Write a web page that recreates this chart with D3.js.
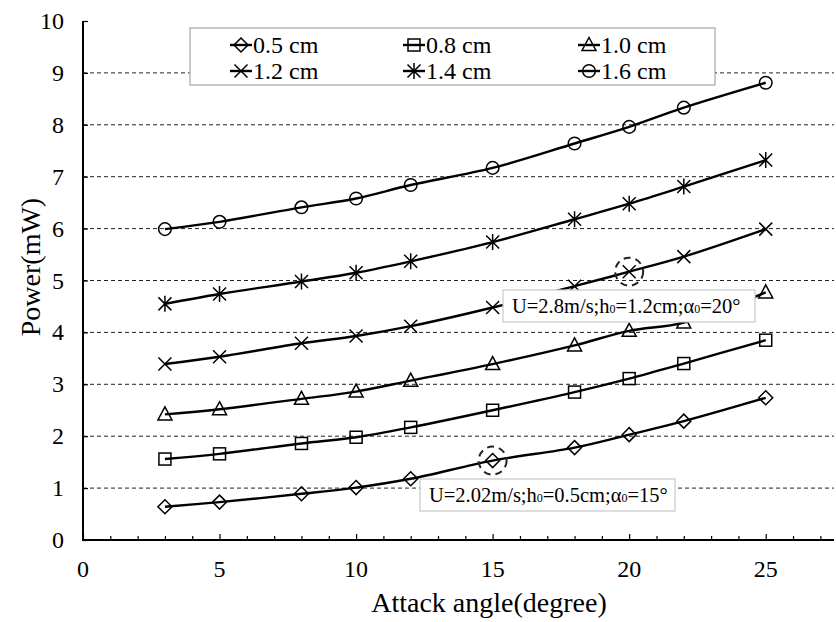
<!DOCTYPE html>
<html>
<head>
<meta charset="utf-8">
<script src="https://cdn.jsdelivr.net/npm/d3@7"></script>
<style>
    body { margin: 0; background: white; }
</style>
</head>
<body>
<script>
// data
const angles = [3, 5, 8, 10, 12, 15, 18, 20, 22, 25];
const seriesNames = ["0.5 cm", "0.8 cm", "1.0 cm", "1.2 cm", "1.4 cm", "1.6 cm"];
const p05 = [0.64, 0.73, 0.89, 1.01, 1.18, 1.53, 1.78, 2.03, 2.29, 2.74];
const p08 = [1.56, 1.66, 1.86, 1.98, 2.17, 2.50, 2.85, 3.11, 3.40, 3.85];
const p10 = [2.42, 2.52, 2.72, 2.86, 3.07, 3.39, 3.75, 4.03, 4.19, 4.77];
const p12 = [3.39, 3.53, 3.79, 3.93, 4.12, 4.48, 4.89, 5.17, 5.46, 5.99];
const p14 = [4.55, 4.74, 4.98, 5.15, 5.37, 5.74, 6.18, 6.48, 6.81, 7.32];
const p16 = [5.99, 6.13, 6.41, 6.58, 6.84, 7.17, 7.64, 7.96, 8.33, 8.81];
const markers = ["diamond", "square", "triangle", "cross", "asterisk", "circle"];
const yTicks = [0, 1, 2, 3, 4, 5, 6, 7, 8, 9, 10];
const xTicks = [0, 5, 10, 15, 20, 25];
const notes = [
    {x: 20, y: 5.17, text: ["U=2.8m/s;h", "0", "=1.2cm;α", "0", "=20°"]},
    {x: 15, y: 1.53, text: ["U=2.02m/s;h", "0", "=0.5cm;α", "0", "=15°"]}
];

const allSeries = [p05, p08, p10, p12, p14, p16].map((vals, i) => ({
    name: seriesNames[i],
    marker: markers[i],
    points: angles.map((a, j) => ({x: a, y: vals[j]}))
}));

const FONT = "'Liberation Serif', 'DejaVu Serif', serif";
const svg = d3.select("body").append("svg")
    .attr("width", 836).attr("height", 622)
    .style("font-family", FONT)
    .style("background", "white");

const xScale = d3.scaleLinear().domain([0, 27.5]).range([83, 834]);
const yScale = d3.scaleLinear().domain([0, 10]).range([540, 21]);

// dashed grid lines
svg.append("g").selectAll("line")
    .data(yTicks.filter(t => t > 0 && t < 10))
    .join("line")
    .attr("x1", xScale(0)).attr("x2", xScale(27.5))
    .attr("y1", d => yScale(d)).attr("y2", d => yScale(d))
    .attr("stroke", "#222").attr("stroke-width", 1)
    .attr("stroke-dasharray", "4,3");

// axes
const xAxis = d3.axisBottom(xScale).tickValues(d3.range(0, 28, 1))
    .tickSize(0).tickFormat("");
const xg = svg.append("g").attr("transform", `translate(0, ${yScale(0)})`).call(xAxis);
xg.select(".domain").remove();
xg.selectAll(".tick line").attr("y2", d => d % 5 === 0 ? -6 : -4)
    .attr("stroke", "black").attr("stroke-width", 1.2);
svg.append("g").selectAll("text").data(xTicks).join("text")
    .attr("x", d => xScale(d)).attr("y", 577)
    .attr("text-anchor", "middle").attr("font-size", 24)
    .style("font-family", FONT)
    .text(d => d);

const yAxis = d3.axisLeft(yScale).tickValues(yTicks).tickSize(0).tickFormat("");
const yg = svg.append("g").attr("transform", `translate(${xScale(0)}, 0)`).call(yAxis);
yg.select(".domain").remove();
yg.selectAll(".tick line").attr("x2", 5).attr("stroke", "black").attr("stroke-width", 1.2);
svg.append("g").selectAll("text").data(yTicks).join("text")
    .attr("x", 64).attr("y", d => yScale(d) + 8)
    .attr("text-anchor", "end").attr("font-size", 24)
    .style("font-family", FONT)
    .text(d => d);

svg.append("line")
    .attr("x1", xScale(0)).attr("x2", xScale(27.5))
    .attr("y1", yScale(0)).attr("y2", yScale(0))
    .attr("stroke", "black").attr("stroke-width", 2);
svg.append("line")
    .attr("x1", xScale(0)).attr("x2", xScale(0))
    .attr("y1", yScale(0) + 1).attr("y2", yScale(10))
    .attr("stroke", "black").attr("stroke-width", 2);

// axis titles
svg.append("text").attr("x", 489).attr("y", 612)
    .attr("text-anchor", "middle").attr("font-size", 28)
    .style("font-family", FONT)
    .text("Attack angle(degree)");
svg.append("text").attr("transform", "translate(40, 267) rotate(-90)")
    .attr("text-anchor", "middle").attr("font-size", 28)
    .style("font-family", FONT)
    .text("Power(mW)");

// marker shapes
function drawMarker(g, type, cx, cy)
{
    const s = 6.5;
    let el;
    if (type === "circle")
        el = g.append("circle").attr("cx", cx).attr("cy", cy).attr("r", 6.3);
    else if (type === "square")
        el = g.append("rect").attr("x", cx - 6).attr("y", cy - 6).attr("width", 12).attr("height", 12);
    else if (type === "diamond")
        el = g.append("path").attr("d", `M${cx},${cy - 7}L${cx + 7},${cy}L${cx},${cy + 7}L${cx - 7},${cy}Z`);
    else if (type === "triangle")
        el = g.append("path").attr("d", `M${cx},${cy - 7.5}L${cx + 7},${cy + 5.5}L${cx - 7},${cy + 5.5}Z`);
    else if (type === "cross")
        el = g.append("path").attr("d", `M${cx - s},${cy - s}L${cx + s},${cy + s}M${cx - s},${cy + s}L${cx + s},${cy - s}`);
    else
        el = g.append("path").attr("d", `M${cx - s},${cy - s}L${cx + s},${cy + s}M${cx - s},${cy + s}L${cx + s},${cy - s}M${cx},${cy - 8}L${cx},${cy + 8}`);
    el.attr("stroke", "black").attr("stroke-width", 1.5).attr("fill", "none");
}

// series lines and points
const line = d3.line()
    .x(d => xScale(d.x)).y(d => yScale(d.y))
    .curve(d3.curveCatmullRom.alpha(0.5));

allSeries.forEach(s => {
    svg.append("path").datum(s.points)
        .attr("d", line)
        .attr("fill", "none").attr("stroke", "black").attr("stroke-width", 2.4);
    const mg = svg.append("g");
    s.points.forEach(p => drawMarker(mg, s.marker, xScale(p.x), yScale(p.y)));
});

// highlighted points and notes
const noteBoxes = [{x: 503, y: 290, w: 252, h: 32}, {x: 420, y: 479, w: 255, h: 32}];
notes.forEach((n, i) => {
    svg.append("circle")
        .attr("cx", xScale(n.x)).attr("cy", yScale(n.y)).attr("r", 14)
        .attr("fill", "none").attr("stroke", "#222").attr("stroke-width", 2)
        .attr("stroke-dasharray", "7,5");
    const b = noteBoxes[i];
    svg.append("rect").attr("x", b.x).attr("y", b.y).attr("width", b.w).attr("height", b.h)
        .attr("fill", "white").attr("stroke", "#c8c8c8").attr("stroke-width", 1.2);
    const t = svg.append("text").attr("x", b.x + 9).attr("y", b.y + 23)
        .attr("font-size", 20.5).style("font-family", FONT);
    n.text.forEach((part, k) => {
        t.append("tspan").attr("font-size", k % 2 === 1 ? 12 : 20.5).text(part);
    });
});

// legend
const legend = svg.append("g");
legend.append("rect").attr("x", 190).attr("y", 28).attr("width", 525).attr("height", 57)
    .attr("fill", "white").attr("stroke", "#a6a6a6").attr("stroke-width", 1.2);
const colX = [241, 414, 589];
const rowY = [45, 71];
allSeries.forEach((s, i) => {
    const cx = colX[i % 3], cy = rowY[Math.floor(i / 3)];
    legend.append("line").attr("x1", cx - 11).attr("x2", cx + 11)
        .attr("y1", cy).attr("y2", cy)
        .attr("stroke", "black").attr("stroke-width", 2.4);
    drawMarker(legend, s.marker, cx, cy);
    legend.append("text").attr("x", cx + 12).attr("y", cy + 8)
        .attr("font-size", 24).style("font-family", FONT).text(s.name);
});
</script>
</body>
</html>
